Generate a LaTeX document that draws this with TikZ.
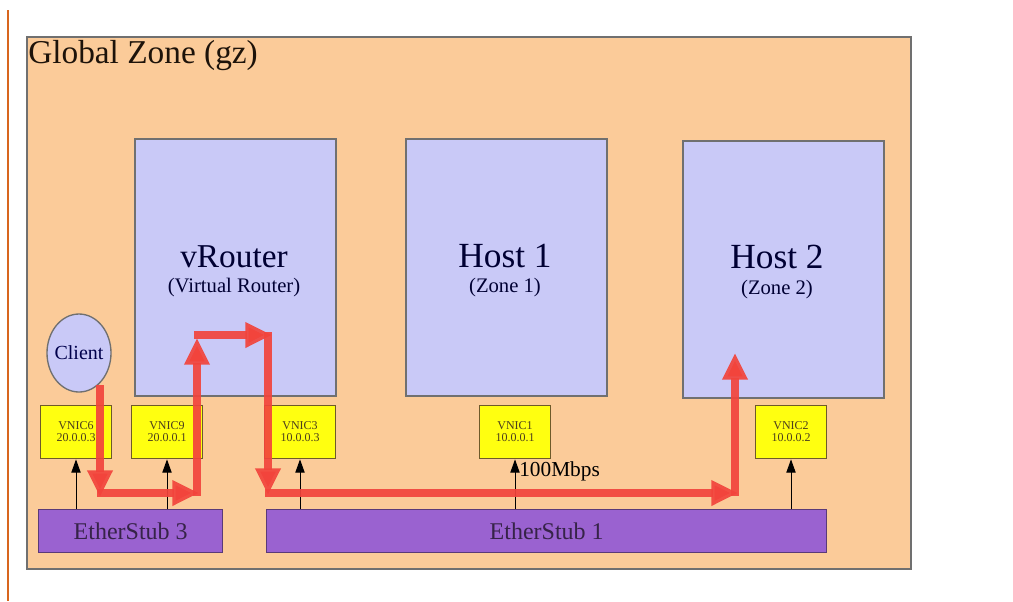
\documentclass[tikz,border=0pt]{standalone}
\usepackage{fontspec}
\setmainfont{Liberation Serif}
\usetikzlibrary{arrows.meta,shapes.geometric}
\definecolor{peach}{HTML}{FBCB99}
\definecolor{lav}{HTML}{C9C9F7}
\definecolor{vnicy}{HTML}{FFFF10}
\definecolor{vnicb}{HTML}{6E5A2A}
\definecolor{stubp}{HTML}{9A62D0}
\definecolor{stubb}{HTML}{5A3A78}
\definecolor{flowred}{HTML}{F2443C}
\definecolor{framegray}{HTML}{707070}
\definecolor{edgeorange}{HTML}{D8661E}
\tikzset{
  hostbox/.style={draw=framegray, line width=1.2pt, fill=lav, minimum width=151pt, minimum height=193pt, inner sep=0pt},
  hosttitle/.style={anchor=base, inner sep=0pt, font=\fontsize{25}{27}\selectfont, text=black!80!blue},
  hostsub/.style={anchor=base, inner sep=0pt, font=\fontsize{15.5}{17}\selectfont, text=black!80!blue},
  vnicbox/.style={draw=vnicb, line width=1pt, fill=vnicy, minimum width=53pt, minimum height=40pt, inner sep=0pt, align=center, font=\fontsize{9}{9}\selectfont, text=vnicb!70!black},
  stubbox/.style={draw=stubb, line width=1pt, fill=stubp, minimum height=32pt, inner sep=0pt, font=\fontsize{18}{20}\selectfont, text=stubb!60!black},
  link/.style={draw=black, line width=0.7pt, -{Triangle[length=10pt,width=7pt]}},
  flow/.style={draw=flowred, draw opacity=0.92, line width=5.5pt, -{Triangle[length=20pt,width=18pt,fill=flowred]}},
}
\begin{document}
\begin{tikzpicture}[x=0.75pt,y=-0.75pt]
\useasboundingbox (0,0) rectangle (1013,601);
\fill[white] (0,0) rectangle (1013,601);
\draw[edgeorange, line width=1pt] (8,10) -- (8,601);
% global zone
\node[draw=framegray, line width=1.5pt, fill=peach, minimum width=663pt, minimum height=399pt, inner sep=0pt, anchor=north west] (gz) at (26,36) {};
\node[anchor=north west, inner sep=0pt, font=\fontsize{25}{27}\selectfont, text=black!85!brown] (title) at (28,40) {Global Zone (gz)};
% hosts
\node[hostbox, anchor=north west] (vr) at (134,138) {};
\node[hostbox, anchor=north west] (h1) at (405,138) {};
\node[hostbox, anchor=north west] (h2) at (682,140) {};
\node[hosttitle] (vrt) at (234,267) {vRouter};
\node[hostsub] (vrs) at (234,292) {(Virtual Router)};
\node[hosttitle, font=\fontsize{26.5}{28}\selectfont] (h1t) at (505,267) {Host 1};
\node[hostsub] (h1s) at (505,292) {(Zone 1)};
\node[hosttitle, font=\fontsize{26.5}{28}\selectfont] (h2t) at (777,268) {Host 2};
\node[hostsub] (h2s) at (777,294) {(Zone 2)};
% client
\coordinate (cc) at (79,353);
\draw[framegray, line width=1pt, fill=lav] (cc) ellipse [x radius=32, y radius=39];
\node[inner sep=0pt, font=\fontsize{15}{17}\selectfont, text=black!70!blue] (client) at (cc) {Client};
% vnics
\node[vnicbox] (v6) at (76,432) {VNIC6\\20.0.0.3};
\node[vnicbox] (v9) at (167,432) {VNIC9\\20.0.0.1};
\node[vnicbox] (v3) at (300,432) {VNIC3\\10.0.0.3};
\node[vnicbox] (v1) at (515,432) {VNIC1\\10.0.0.1};
\node[vnicbox] (v2) at (791,432) {VNIC2\\10.0.0.2};
% stubs
\node[stubbox, minimum width=138pt, anchor=north west] (es3) at (38,509) {EtherStub 3};
\node[stubbox, minimum width=420pt, anchor=north west] (es1) at (266,509) {EtherStub 1};
% links
\draw[link] (es3.north -| v6.south) -- (v6.south);
\draw[link] (es3.north -| v9.south) -- (v9.south);
\draw[link] (es1.north -| v3.south) -- (v3.south);
\draw[link] (es1.north -| v1.south) -- (v1.south);
\draw[link] (es1.north -| v2.south) -- (v2.south);
\node[anchor=west, inner sep=0pt, font=\fontsize{16}{18}\selectfont] (bw) at (519,471) {100Mbps};
% flow path
\coordinate (p0) at (100,385);
\coordinate (p1) at (100,497);
\coordinate (p1b) at (97,493);
\coordinate (p2) at (199,493);
\coordinate (p2b) at (197,496);
\coordinate (p3) at (197,338);
\coordinate (p3b) at (194,335);
\coordinate (p4) at (272,335);
\coordinate (p4b) at (268,332);
\coordinate (p5) at (268,495);
\coordinate (p5b) at (265,493);
\coordinate (p6) at (738,493);
\coordinate (p6b) at (735,496);
\coordinate (p7) at (735,353);
\draw[flow] (p0) -- (p1);
\draw[flow] (p1b) -- (p2);
\draw[flow] (p2b) -- (p3);
\draw[flow] (p3b) -- (p4);
\draw[flow] (p4b) -- (p5);
\draw[flow] (p5b) -- (p6);
\draw[flow] (p6b) -- (p7);
\end{tikzpicture}
\end{document}
